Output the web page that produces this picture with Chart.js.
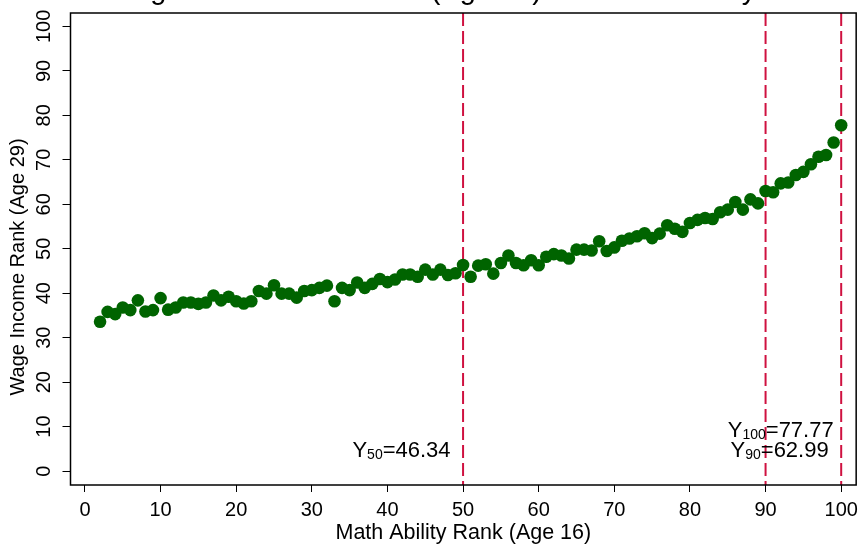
<!DOCTYPE html>
<html>
<head>
<meta charset="utf-8">
<script src="https://cdn.jsdelivr.net/npm/chart.js@4.4.0/dist/chart.umd.min.js"></script>
<style>
  html, body { margin: 0; padding: 0; background: #fff; }
</style>
</head>
<body>
<canvas id="myChart" width="864" height="546"></canvas>
<script>
// data
var mathRank = [2,3,4,5,6,7,8,9,10,11,12,13,14,15,16,17,18,19,20,21,22,23,24,25,26,27,28,29,30,31,
  32,33,34,35,36,37,38,39,40,41,42,43,44,45,46,47,48,49,50,51,52,53,54,55,56,57,58,59,60,61,
  62,63,64,65,66,67,68,69,70,71,72,73,74,75,76,77,78,79,80,81,82,83,84,85,86,87,88,89,90,91,
  92,93,94,95,96,97,98,99,100];
var wageRank = [33.6,35.8,35.3,36.8,36.2,38.4,35.9,36.2,38.9,36.3,36.8,37.9,37.9,37.6,37.9,39.5,38.4,39.2,38.2,37.7,
  38.2,40.5,39.9,41.8,39.9,39.9,39.0,40.5,40.7,41.2,41.7,38.2,41.2,40.7,42.4,41.2,42.1,43.2,42.5,43.1,
  44.2,44.2,43.7,45.3,44.2,45.3,44.1,44.5,46.34,43.7,46.2,46.5,44.4,46.8,48.5,46.8,46.3,47.4,46.3,48.2,
  48.8,48.5,47.8,49.8,49.8,49.6,51.7,49.5,50.3,51.8,52.3,52.8,53.5,52.4,53.4,55.3,54.5,53.8,55.8,56.5,
  56.9,56.7,58.2,58.8,60.5,58.8,61.1,60.2,62.99,62.7,64.7,64.9,66.6,67.3,69.0,70.7,71.1,73.9,77.77];
var xTicks = [0,10,20,30,40,50,60,70,80,90,100];
var yTicks = [0,10,20,30,40,50,60,70,80,90,100];
var cutoffs = [50, 90, 100];

var xMin = -1.91, xMax = 101.98, yMin = -3.13, yMax = 103.02;
var fam = "'Liberation Sans', Arial, Helvetica, sans-serif";
Chart.defaults.font.family = fam;
Chart.defaults.color = '#000';

var points = mathRank.map(function (x, i) { return {x: x, y: wageRank[i]}; });

var datasets = [{
  type: 'scatter',
  data: points,
  backgroundColor: '#006400',
  borderWidth: 0,
  pointRadius: 6.3,
  pointHoverRadius: 6.3,
  order: 0
}];
cutoffs.forEach(function (c) {
  datasets.push({
    type: 'line',
    data: [{x: c, y: yMax}, {x: c, y: yMin}],
    borderColor: '#cf1140',
    borderWidth: 2,
    borderDash: [13, 5],
    pointRadius: 0,
    fill: false,
    order: 1
  });
});

// "Y" + small subscript + rest, right-aligned at `right`
function subText(ctx, right, base, main, sub, rest) {
  ctx.font = '22px ' + fam;
  var w1 = ctx.measureText(main).width, w3 = ctx.measureText(rest).width;
  ctx.font = '14px ' + fam;
  var w2 = ctx.measureText(sub).width;
  var x = right - w1 - w2 - w3;
  ctx.textAlign = 'left';
  ctx.textBaseline = 'alphabetic';
  ctx.font = '22px ' + fam;
  ctx.fillText(main, x, base);
  ctx.font = '14px ' + fam;
  ctx.fillText(sub, x + w1, base + 2);
  ctx.font = '22px ' + fam;
  ctx.fillText(rest, x + w1 + w2, base);
}

var extras = {
  id: 'extras',
  afterDraw: function (chart) {
    var ctx = chart.ctx, a = chart.chartArea;
    var xs = chart.scales.x, ys = chart.scales.y;
    ctx.save();
    ctx.strokeStyle = '#000';
    ctx.lineWidth = 1.5;
    ctx.strokeRect(a.left, a.top, a.right - a.left, a.bottom - a.top);
    ctx.fillStyle = '#000';
    // title, cut off by the top of the picture
    ctx.font = '29px ' + fam;
    ctx.textAlign = 'center';
    ctx.textBaseline = 'alphabetic';
    ctx.fillText('Wage Income Percentile (Age 29) and Math Ability', 432, -1.5);
    // y axis title (sits a bit below the middle of the axis)
    ctx.save();
    ctx.translate(18, 267);
    ctx.rotate(-Math.PI / 2);
    ctx.font = '20px ' + fam;
    ctx.textAlign = 'center';
    ctx.textBaseline = 'middle';
    ctx.fillText('Wage Income Rank (Age 29)', 0, 0);
    ctx.restore();
    subText(ctx, xs.getPixelForValue(50) - 12.5, ys.getPixelForValue(3.1), 'Y', '50', '=46.34');
    subText(ctx, xs.getPixelForValue(100) - 7.5, ys.getPixelForValue(7.7), 'Y', '100', '=77.77');
    subText(ctx, xs.getPixelForValue(100) - 12.5, ys.getPixelForValue(3.1), 'Y', '90', '=62.99');
    ctx.restore();
  }
};

new Chart(document.getElementById('myChart'), {
  data: {datasets: datasets},
  options: {
    responsive: false,
    animation: false,
    events: [],
    layout: {padding: {top: 10.5, right: 6.5, left: 0, bottom: 0}},
    plugins: {legend: {display: false}, tooltip: {enabled: false}},
    scales: {
      x: {
        type: 'linear',
        min: xMin, max: xMax,
        afterBuildTicks: function (s) { s.ticks = xTicks.map(function (v) { return {value: v}; }); },
        afterFit: function (s) { s.height = 61; },
        grid: {display: true, drawOnChartArea: false, drawTicks: true, tickLength: 7, color: '#000'},
        border: {display: false},
        ticks: {font: {size: 20}, padding: 6, maxRotation: 0, autoSkip: false},
        title: {display: true, text: 'Math Ability Rank (Age 16)', font: {size: 21.5}, padding: {top: 0, bottom: 0}}
      },
      y: {
        type: 'linear',
        min: yMin, max: yMax,
        afterBuildTicks: function (s) { s.ticks = yTicks.map(function (v) { return {value: v}; }); },
        afterFit: function (s) { s.width = 70.5; },
        grid: {display: true, drawOnChartArea: false, drawTicks: true, tickLength: 8, color: '#000'},
        border: {display: false},
        ticks: {font: {size: 20}, padding: 1, minRotation: 90, maxRotation: 90, crossAlign: 'center', autoSkip: false},
        title: {display: false}
      }
    }
  },
  plugins: [extras]
});
</script>
</body>
</html>
